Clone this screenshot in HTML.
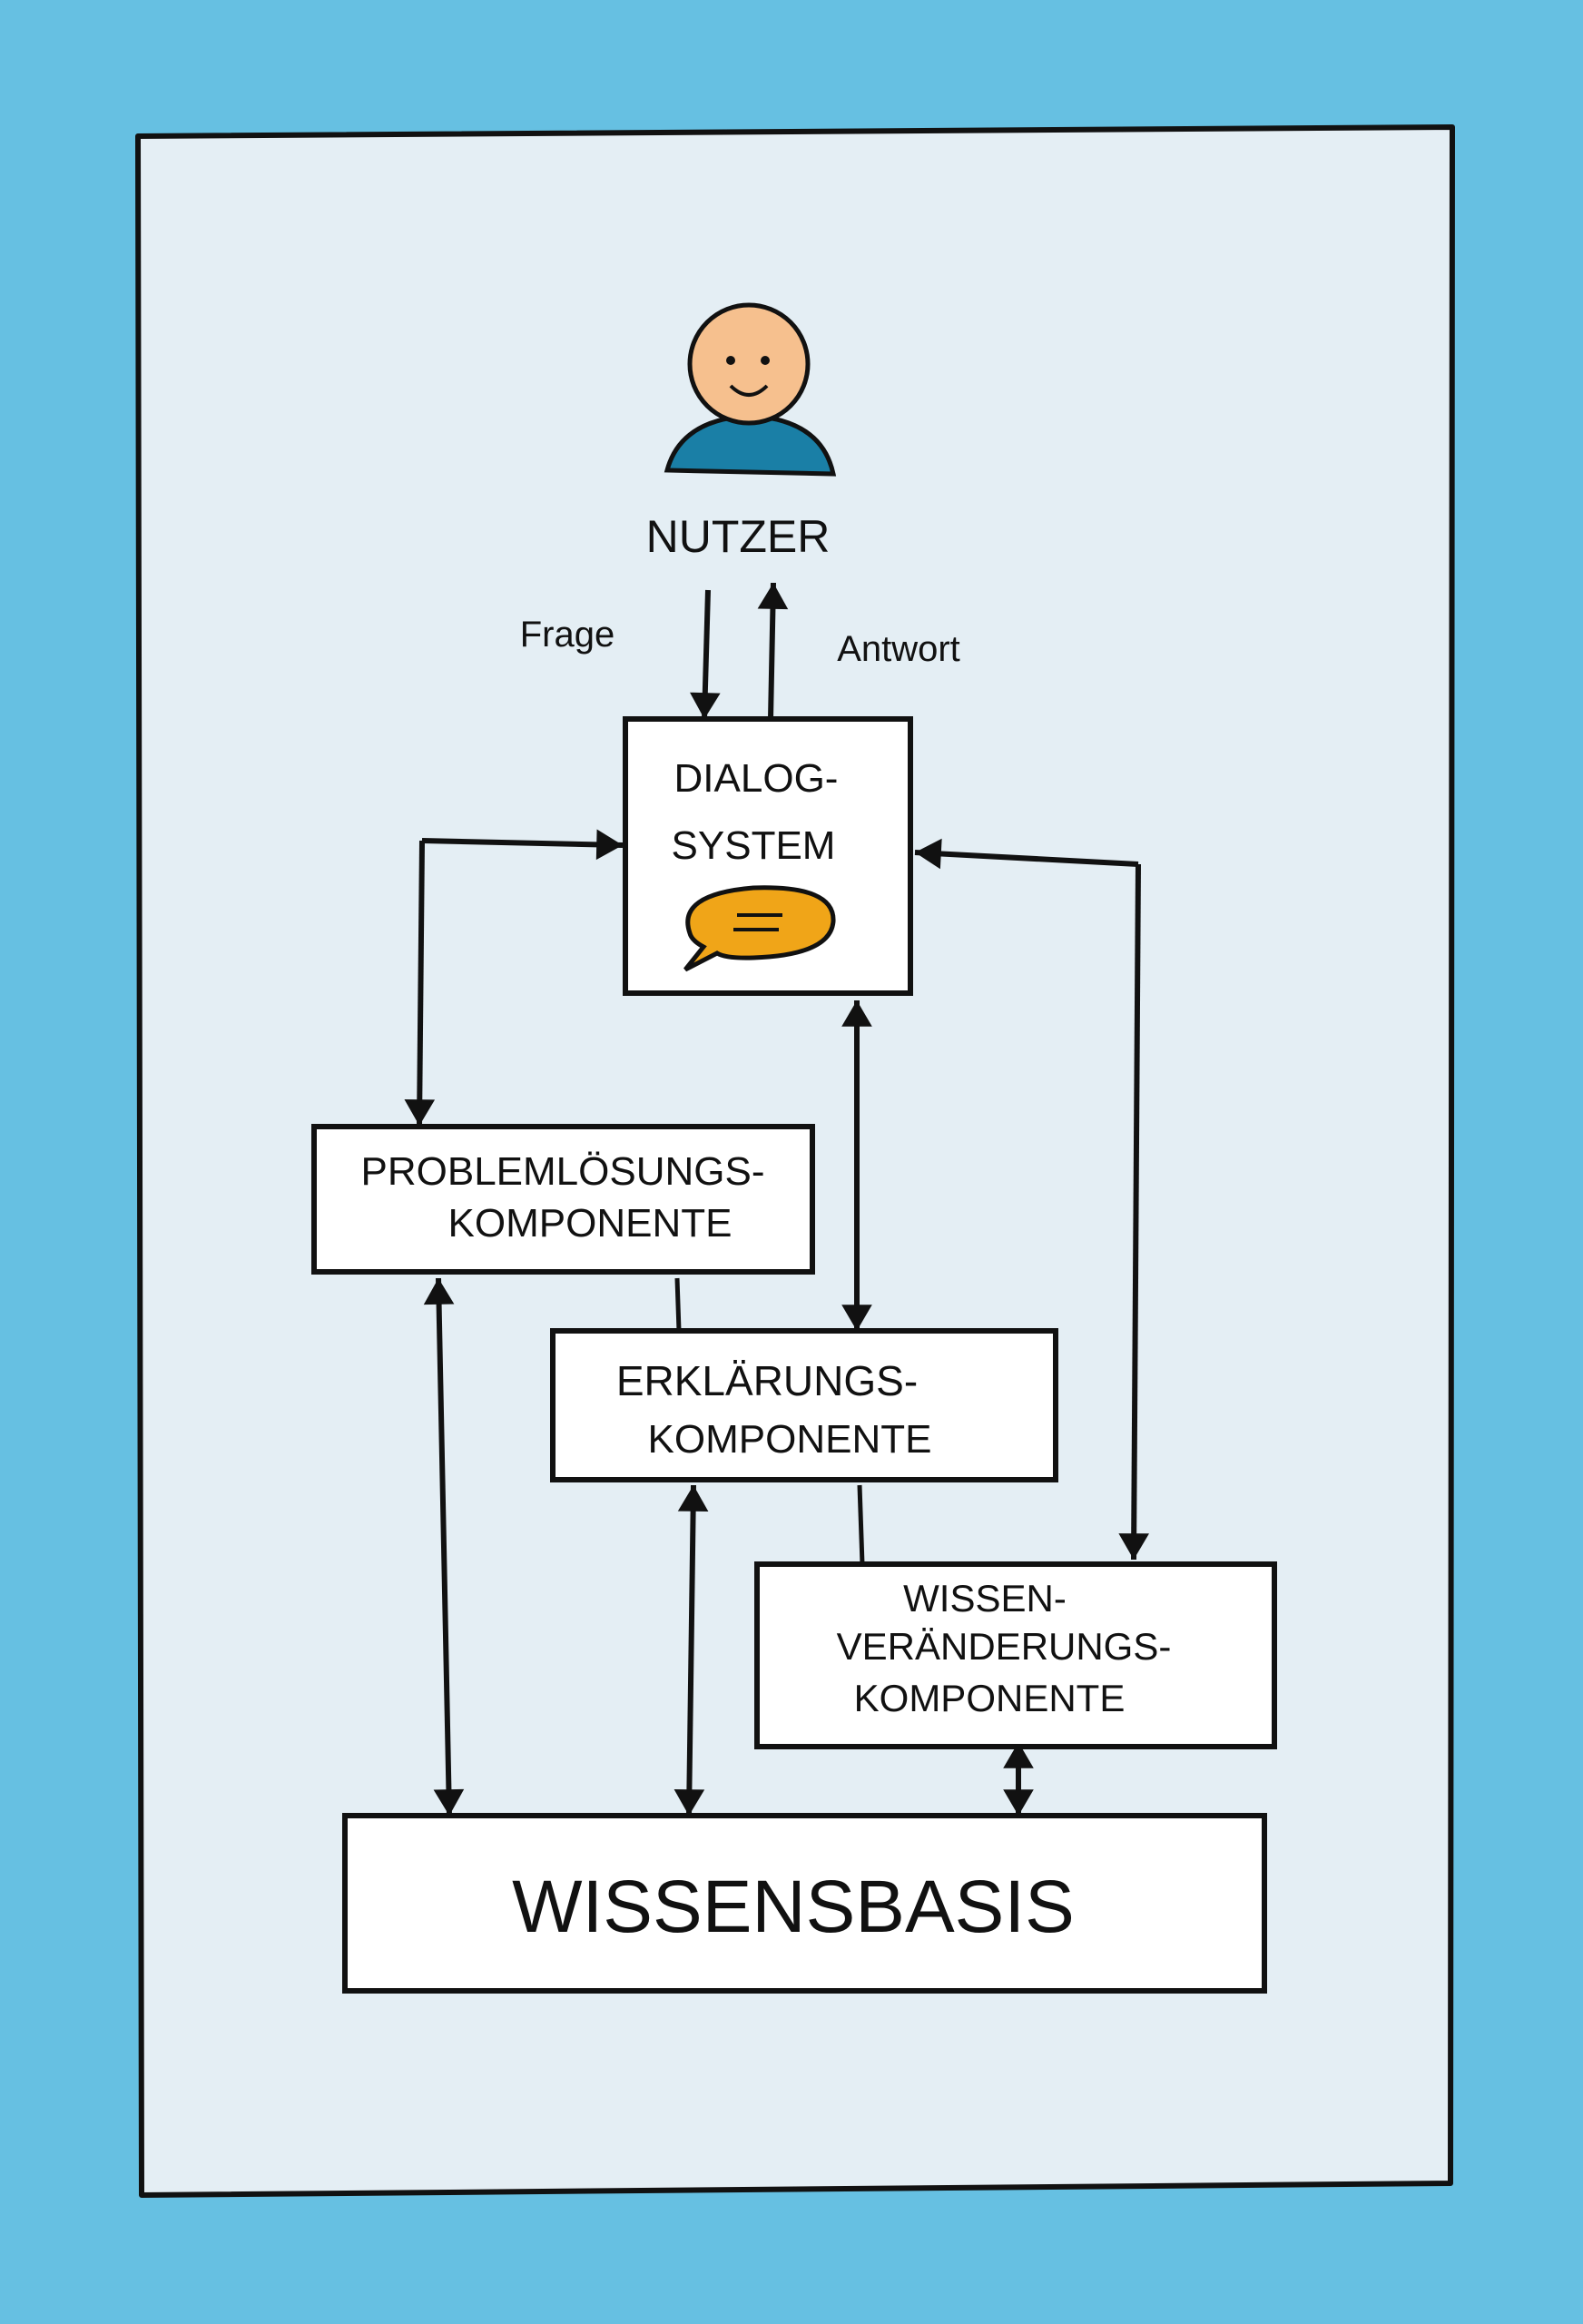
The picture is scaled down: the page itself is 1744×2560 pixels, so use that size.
<!DOCTYPE html>
<html><head><meta charset="utf-8"><style>
html,body{margin:0;padding:0;background:#66c0e2;}
svg{display:block}
text{font-family:"Liberation Sans",sans-serif;fill:#111;}
</style></head><body>
<svg width="1744" height="2560" viewBox="0 0 1744 2560" xmlns="http://www.w3.org/2000/svg">
<defs>
<marker id="ah" viewBox="0 0 10 10" refX="10" refY="5" markerWidth="12" markerHeight="12" orient="auto-start-reverse" markerUnits="userSpaceOnUse" style="overflow:visible">
<path d="M-14,-9 L10,5 L-14,19 z" fill="#111"/>
</marker>
</defs>
<rect width="1744" height="2560" fill="#66c0e2"/>
<path d="M152,150 L1600,140 L1598,2405 L156,2418 Z" fill="#e4eef4" stroke="#111" stroke-width="6" stroke-linejoin="round"/>
<path d="M735,518 Q750,462 826,458 Q905,462 918,522 Z" fill="#1a7fa6" stroke="#111" stroke-width="5"/>
<circle cx="825" cy="401" r="65" fill="#f6c08e" stroke="#111" stroke-width="5"/>
<circle cx="805" cy="397" r="5" fill="#111"/><circle cx="843" cy="397" r="5" fill="#111"/>
<path d="M805,425 Q825,445 845,425" fill="none" stroke="#111" stroke-width="4"/>
<text x="813" y="608" font-size="50" text-anchor="middle">NUTZER</text>
<text x="625" y="712" font-size="40" text-anchor="middle">Frage</text>
<text x="990" y="728" font-size="40" text-anchor="middle">Antwort</text>
<g stroke="#111" stroke-width="6" fill="none" marker-end="url(#ah)">
<line x1="780" y1="650" x2="776" y2="792"/>
<line x1="849" y1="792" x2="852" y2="642"/>
<polyline points="465,926 686,931"/>
<line x1="465" y1="926" x2="462" y2="1240"/>
<polyline points="1254,952 1008,939"/>
<line x1="1254" y1="952" x2="1249" y2="1718"/>
<line x1="944" y1="1102" x2="944" y2="1466" marker-start="url(#ah)"/>
<line x1="483" y1="1408" x2="495" y2="2000" marker-start="url(#ah)"/>
<line x1="764" y1="1636" x2="759" y2="2000" marker-start="url(#ah)"/>
<line x1="1122" y1="1919" x2="1122" y2="2000" marker-start="url(#ah)"/>
</g>
<g stroke="#111" stroke-width="5">
<line x1="746" y1="1408" x2="748" y2="1466"/>
<line x1="947" y1="1636" x2="950" y2="1723"/>
</g>
<g fill="#fff" stroke="#111" stroke-width="6">
<rect x="689" y="792" width="314" height="302"/>
<rect x="346" y="1241" width="549" height="160"/>
<rect x="609" y="1466" width="554" height="164"/>
<rect x="834" y="1723" width="570" height="201"/>
<rect x="380" y="2000" width="1013" height="193"/>
</g>
<text x="833" y="872" font-size="44" text-anchor="middle">DIALOG-</text>
<text x="830" y="946" font-size="44" text-anchor="middle">SYSTEM</text>
<path d="M760,1028 Q745,985 830,978 Q920,975 918,1015 Q915,1052 830,1055 Q800,1056 790,1050 L755,1068 L775,1043 Q762,1036 760,1028 Z" fill="#f0a518" stroke="#111" stroke-width="5"/>
<line x1="812" y1="1008" x2="862" y2="1008" stroke="#111" stroke-width="4"/>
<line x1="808" y1="1024" x2="858" y2="1024" stroke="#111" stroke-width="4"/>
<text x="620" y="1305" font-size="44" text-anchor="middle">PROBLEMLÖSUNGS-</text>
<text x="650" y="1362" font-size="44" text-anchor="middle">KOMPONENTE</text>
<text x="845" y="1537" font-size="46" text-anchor="middle">ERKLÄRUNGS-</text>
<text x="870" y="1600" font-size="44" text-anchor="middle">KOMPONENTE</text>
<text x="1085" y="1775" font-size="42" text-anchor="middle">WISSEN-</text>
<text x="1106" y="1828" font-size="42" text-anchor="middle">VERÄNDERUNGS-</text>
<text x="1090" y="1885" font-size="42" text-anchor="middle">KOMPONENTE</text>
<text x="874" y="2128" font-size="82" text-anchor="middle">WISSENSBASIS</text>
</svg>
</body></html>
